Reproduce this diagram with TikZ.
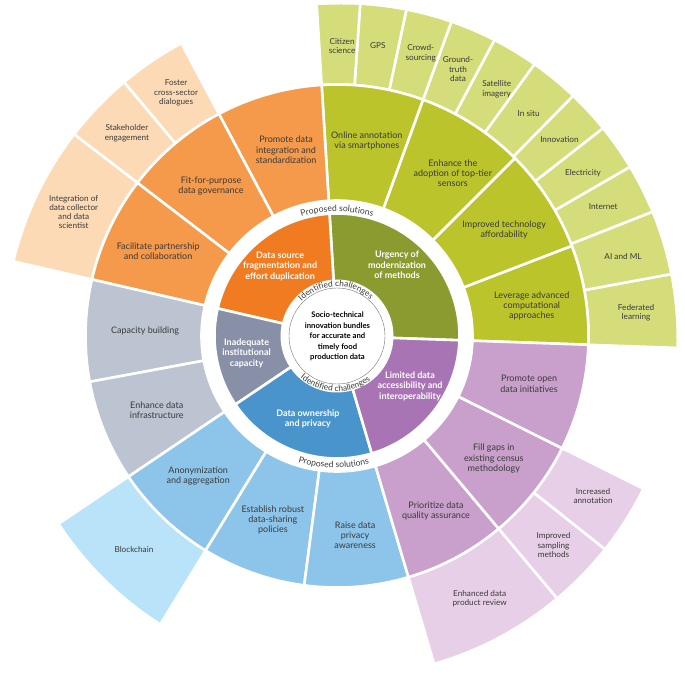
\documentclass[tikz,border=0pt]{standalone}
\usepackage{fontspec}
\setmainfont{Lato}
\usetikzlibrary{decorations.text}

%% colori: anello sfide, anello soluzioni, anello esterno
\definecolor{sfVerde}{HTML}{8B9B30}
\definecolor{sfArancio}{HTML}{F07B21}
\definecolor{sfGrigio}{HTML}{8890A8}
\definecolor{sfBlu}{HTML}{4A94CC}
\definecolor{sfViola}{HTML}{A874B4}
\definecolor{soVerde}{HTML}{BBC52B}
\definecolor{soArancio}{HTML}{F5994B}
\definecolor{soGrigio}{HTML}{BCC3D1}
\definecolor{soBlu}{HTML}{8DC5EA}
\definecolor{soViola}{HTML}{C9A0CC}
\definecolor{esVerde}{HTML}{D5DC7A}
\definecolor{esArancio}{HTML}{FDDAB6}
\definecolor{esBlu}{HTML}{B9E3F8}
\definecolor{esViola}{HTML}{E7D0E7}
\definecolor{testoScuro}{HTML}{3A3A3A}

%% settore di corona: colore, r1, r2, a1, a2
\newcommand{\settore}[5]{%
	\fill[#1, draw=white, line width=2.6pt]
		(#4:#2) arc (#4:#5:#2) -- (#5:#3) arc (#5:#4:#3) -- cycle;}

\begin{document}
\begin{tikzpicture}[
			x=1pt, y=1pt,
			sfida/.style={align=center, text=white, inner sep=0pt,
				font=\bfseries\fontsize{9}{10.5}\selectfont},
			soluz/.style={align=center, text=testoScuro, inner sep=0pt,
				font=\fontsize{9}{10.2}\selectfont},
			estern/.style={align=center, text=testoScuro, inner sep=0pt,
				font=\fontsize{8.2}{9.2}\selectfont},
			arcoT/.style={decorate, decoration={text along path,
				text align=center, text color=testoScuro}}]
			\useasboundingbox (-337,-346) rectangle (348,336);
			\def\rA{56.5}
			\def\rB{122.5}
			\def\rC{135.5}
			\def\rD{251.5}
			
			%% anello esterno (bordo esterno fuori centro)
			\begin{scope}
				\clip (4,-4) circle (335.5);
				\foreach \a/\b/\c in {-2/10.5/esVerde, 10.5/21.5/esVerde,
					21.5/30/esVerde, 30/38/esVerde, 38/45.5/esVerde,
					45.5/54/esVerde, 54/62/esVerde, 62/70/esVerde,
					70/78/esVerde, 78/86/esVerde, 86/93.5/esVerde,
					118/130/esArancio, 130/142.5/esArancio,
					142.5/167/esArancio, 214/238.5/esBlu,
					286.5/310/esViola, 310/321.5/esViola,
					321.5/333.5/esViola}
					\settore{\c}{\rD}{360}{\a}{\b};
			\end{scope}
			
			%% anello soluzioni
			\foreach \a/\b/\c in {-2/21/soVerde, 21/45/soVerde,
				45/70/soVerde, 70/93.5/soVerde, 93.5/118/soArancio,
				118/142.5/soArancio, 142.5/167/soArancio,
				167/190.5/soGrigio, 190.5/214/soGrigio, 214/238.5/soBlu,
				238.5/262.5/soBlu, 262.5/286.5/soBlu, 286.5/310/soViola,
				310/333.5/soViola, 333.5/358/soViola}
				\settore{\c}{\rC}{\rD}{\a}{\b};
			
			%% anello sfide
			\foreach \a/\b/\c in {-2/93.5/sfVerde, 93.5/167/sfArancio,
				167/214/sfGrigio, 214/286.5/sfBlu, 286.5/358/sfViola}
				\settore{\c}{30}{\rB}{\a}{\b};
			
			%% disco centrale
			\fill[white] (0,0) circle (\rA);
			\draw[black!55, line width=0.4pt] (0,0) circle (48);
			\node[align=center, inner sep=0pt, text=black,
				font=\bfseries\fontsize{7.7}{10.4}\selectfont] (centro) at (0.5,-0.5)
				{Socio-technical\\innovation bundles\\for accurate and\\timely food\\production data};
			
			%% scritte ad arco
			\path[arcoT, decoration={text={|\fontsize{8.4}{9}\selectfont|Identified challenges}}]
				(156.5:49.5) arc (156.5:26.5:49.5);
			\path[arcoT, decoration={text={|\fontsize{8.4}{9}\selectfont|Identified challenges}}]
				(203:55.5) arc (203:333:55.5);
			\path[arcoT, decoration={text={|\fontsize{8.6}{9}\selectfont|Proposed solutions}}]
				(125:124.5) arc (125:55:124.5);
			\path[arcoT, decoration={text={|\fontsize{8.6}{9}\selectfont|Proposed solutions}}]
				(233.5:132) arc (233.5:303.5:132);
			
			%% etichette sfide
			\foreach \a/\r/\t [count=\i] in {
				49.8/93/{Urgency of\\modernization\\of methods},
				129.2/90/{Data source\\fragmentation and\\effort duplication},
				190.7/92/{Inadequate\\institutional\\capacity},
				250.7/88/{Data ownership\\and privacy},
				325.6/88.5/{Limited data\\accessibility and\\interoperability}}
				\node[sfida] (sf\i) at (\a:\r) {\t};
			
			%% etichette soluzioni
			\foreach \a/\r/\t [count=\i] in {
				81.3/197/{Online annotation\\via smartphones},
				54.6/200/{Enhance the\\adoption of top-tier\\sensors},
				32.4/198/{Improved technology\\affordability},
				8.7/197/{Leverage advanced\\computational\\approaches},
				105.3/193/{Promote data\\integration and\\standardization},
				130/196/{Fit-for-purpose\\data governance},
				154.6/198/{Facilitate partnership\\and collaboration},
				178.5/192/{Capacity building},
				202.4/195/{Enhance data\\infrastructure},
				225.2/197/{Anonymization\\and aggregation},
				250.8/195/{Establish robust\\data-sharing\\policies},
				275.2/200/{Raise data\\privacy\\awareness},
				299.5/201/{Prioritize data\\quality assurance},
				322/199/{Fill gaps in\\existing census\\methodology},
				346/198/{Promote open\\data initiatives}}
				\node[soluz] (so\i) at (\a:\r) {\t};
			
			%% etichette anello esterno
			\foreach \a/\r/\t [count=\i] in {
				89/290/{Citizen\\science},
				82/293/{GPS},
				73.5/295/{Crowd-\\sourcing},
				65.6/293/{Ground-\\truth\\data},
				57.1/294/{Satellite\\imagery},
				49.3/294/{In situ},
				41.5/297/{Innovation},
				33.5/295/{Electricity},
				25.9/296/{Internet},
				15.6/297/{AI and ML},
				4.4/300/{Federated\\learning},
				123.5/291.5/{Foster\\cross-sector\\dialogues},
				136/292/{Stakeholder\\engagement},
				154.8/291/{Integration of\\data collector\\and data\\scientist},
				226.5/295/{Blockchain},
				298.5/299/{Enhanced data\\product review},
				316/301/{Improved\\sampling\\methods},
				328/302/{Increased\\annotation}}
				\node[estern] (es\i) at (\a:\r) {\t};
		\end{tikzpicture}
\end{document}
